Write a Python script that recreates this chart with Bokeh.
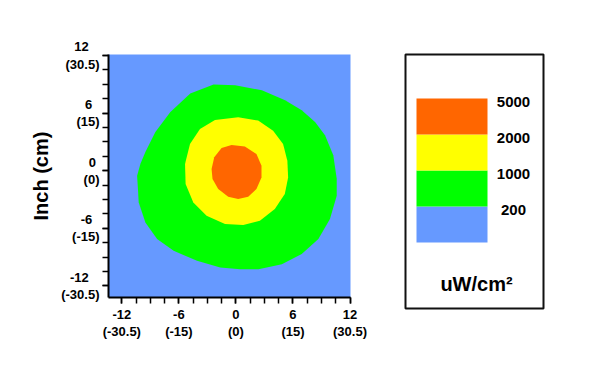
from bokeh.plotting import figure
from bokeh.models import Range1d, SingleIntervalTicker, ColumnDataSource
from bokeh.layouts import row
from bokeh.core.properties import value
from bokeh.embed import file_html
from bokeh.resources import INLINE

# ---- data ----
inch_ticks = [-12, -6, 0, 6, 12]
cm_labels = ["(-30.5)", "(-15)", "(0)", "(15)", "(30.5)"]

levels = [200, 1000, 2000, 5000]
level_colors = ["#6699FF", "#00FF00", "#FFFF00", "#FF6600"]

# contour boundaries (inch)
green_x = [-2.35, -0.07, 2.73, 5.17, 6.92, 8.32, 9.37, 10.24, 10.60, 10.60, 9.89, 8.67, 6.92, 4.83,
           2.37, 0.45, -1.65, -4.09, -6.55, -8.29, -9.52, -10.22, -10.39, -10.04, -9.52, -8.47, -6.89, -4.80]
green_y = [8.97, 8.90, 8.38, 7.33, 6.29, 5.08, 3.68, 1.60, -0.83, -2.60, -5.03, -7.12, -8.68, -9.73,
           -10.25, -10.27, -10.08, -9.38, -8.34, -7.12, -5.39, -3.30, -0.52, 0.73, 1.95, 4.04, 6.12, 8.03]

yellow_x = [0.24, 2.34, 3.91, 4.96, 5.41, 5.49, 5.14, 4.09, 2.52, 0.77, -1.15, -3.09, -4.48, -5.29,
            -5.35, -4.83, -3.78, -2.20]
yellow_y = [5.56, 5.22, 4.17, 2.79, 1.05, -0.70, -2.43, -3.99, -5.21, -5.66, -5.55, -4.69, -3.30, -1.38,
            0.70, 2.79, 4.35, 5.29]

orange_x = [-0.46, 0.94, 2.16, 2.69, 2.69, 2.16, 1.29, 0.24, -0.81, -1.86, -2.46, -2.56, -2.28, -1.51]
orange_y = [2.68, 2.51, 1.74, 0.52, -0.70, -1.90, -2.71, -2.95, -2.71, -1.90, -0.86, 0.18, 1.39, 2.37]

FONT = value("Liberation Sans")

# approximate bold-Arial glyph widths (em) used only to centre the two label lines
_W = {"(": 0.333, ")": 0.333, "-": 0.333, ".": 0.278}
def _width(s):
    return sum(_W.get(ch, 0.556) for ch in s)

def centred_label(top, bottom):
    diff = (_width(bottom) - _width(top)) / 2.0
    pad = "\u2008" * max(0, round(diff / 0.278))
    return f"{top}{pad}\n{bottom}"

# ---- main map ----
p = figure(x_range=Range1d(-13.4, 12.05), y_range=Range1d(-13.2, 12.1),
           frame_width=242, frame_height=243,
           min_border_left=108, min_border_right=38, min_border_top=54, min_border_bottom=63,
           output_backend="svg", toolbar_location=None)
p.background_fill_color = level_colors[0]
p.border_fill_color = "white"
p.outline_line_color = None
p.grid.visible = False

src = ColumnDataSource(dict(xs=[green_x, yellow_x, orange_x],
                            ys=[green_y, yellow_y, orange_y],
                            c=level_colors[1:]))
p.patches("xs", "ys", fill_color="c", line_color=None, source=src)

for ax in (p.xaxis[0], p.yaxis[0]):
    ax.ticker = SingleIntervalTicker(interval=6, num_minor_ticks=4)
    ax.major_label_text_font = "Liberation Sans"
    ax.major_label_text_font_style = "bold"
    ax.major_label_text_font_size = "13px"
    ax.major_label_text_color = "black"
    ax.major_label_text_line_height = 1.15
    ax.axis_line_color = "black"
    ax.axis_line_width = 2
    ax.major_tick_line_color = "black"
    ax.minor_tick_line_color = "black"
    ax.major_tick_line_width = 1.5
    ax.minor_tick_line_width = 1.5
    ax.major_tick_in = 0
    ax.major_tick_out = 6
    ax.minor_tick_in = 0
    ax.minor_tick_out = 6
    ax.major_label_standoff = 3

p.xaxis.major_label_overrides = {t: f"{t}\n{c}" for t, c in zip(inch_ticks, cm_labels)}
p.yaxis.major_label_overrides = {t: centred_label(str(t), c) for t, c in zip(inch_ticks, cm_labels)}

p.yaxis.axis_label = "Inch (cm)"
p.yaxis.axis_label_text_font = "Liberation Sans"
p.yaxis.axis_label_text_font_style = "bold"
p.yaxis.axis_label_text_font_size = "20px"
p.yaxis.axis_label_text_color = "black"
p.yaxis.axis_label_standoff = 6
p.yaxis.major_label_orientation = "horizontal"

# ---- legend panel ----
leg = figure(x_range=Range1d(0, 138), y_range=Range1d(-1.833, 5.222),
             frame_width=138, frame_height=254,
             min_border_left=17, min_border_right=20, min_border_top=54, min_border_bottom=52,
             x_axis_type=None, y_axis_type=None,
             output_backend="svg", toolbar_location=None)
leg.grid.visible = False
leg.outline_line_color = "#111111"
leg.outline_line_width = 2
leg.background_fill_color = "white"

idx = list(range(len(levels)))
lsrc = ColumnDataSource(dict(b=idx, t=[i + 1 for i in idx], c=level_colors,
                             ly=[i + 0.9 for i in idx], lab=[str(v) for v in levels],
                             lx=[108] * len(levels)))
leg.quad(left=11, right=82, bottom="b", top="t", fill_color="c", line_color=None, source=lsrc)
leg.text(x="lx", y="ly", text="lab", source=lsrc, text_font=FONT, text_font_style="bold",
         text_font_size="15px", text_align="center", text_baseline="middle", text_color="black")
leg.text(x=[71], y=[-1.14], text=["uW/cm²"], text_font=FONT, text_font_style="bold",
         text_font_size="20px", text_align="center", text_baseline="middle", text_color="black")

layout = row(p, leg)
open("out.html", "w").write(file_html(layout, INLINE))
